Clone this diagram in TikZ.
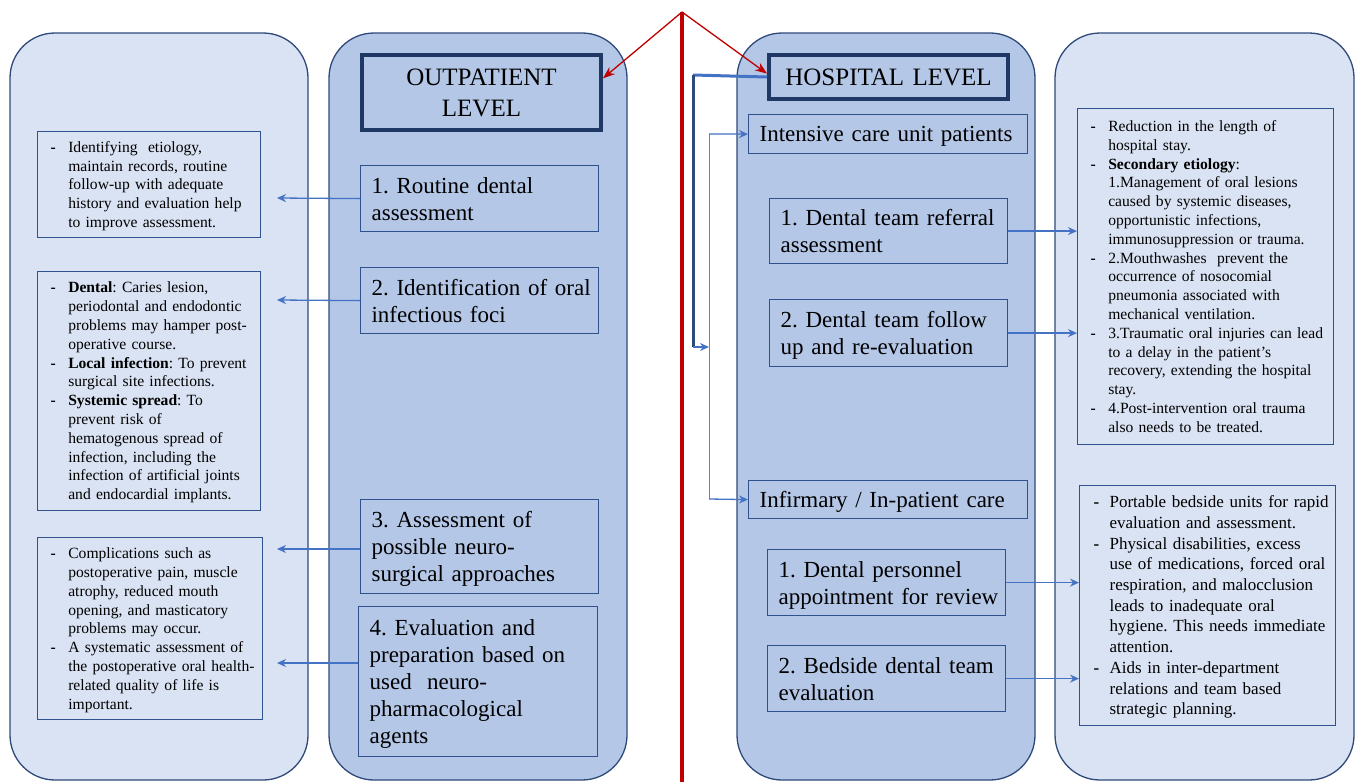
\documentclass[tikz,border=0pt]{standalone}
\usepackage{fontspec}
\setmainfont{Liberation Serif}
\usepackage{array}
\usetikzlibrary{arrows.meta,calc}
\definecolor{lightfill}{HTML}{DAE3F3}
\definecolor{darkfill}{HTML}{B4C7E7}
\definecolor{panelborder}{HTML}{2F4A7A}
\definecolor{boxborder}{HTML}{2F528F}
\definecolor{headborder}{HTML}{203864}
\definecolor{arrowblue}{HTML}{4472C4}
\definecolor{bracketdark}{HTML}{2F4A7A}
\definecolor{redc}{HTML}{C00000}
\newcommand\sidefont{\fontsize{15.6pt}{18.8pt}\selectfont}
\newcommand\sidefontb{\fontsize{17pt}{20.7pt}\selectfont}
\newcommand\midfont{\fontsize{23pt}{27pt}\selectfont}
\newcommand\headfont{\fontsize{25pt}{31pt}\selectfont}
\newcommand\dsh{\textbf{-}}
\newcolumntype{D}{@{}p{17.7pt}@{}}
\newcolumntype{E}{@{}p{16pt}@{}}
\frenchspacing
\begin{document}
\frenchspacing
\begin{tikzpicture}[x=1pt,y=-1pt,
  panelL/.style={draw=panelborder, fill=lightfill, line width=1.3pt, rounded corners=45pt},
  panelD/.style={draw=panelborder, fill=darkfill, line width=1.3pt, rounded corners=45pt},
  midbox/.style={draw=boxborder, fill=darkfill, line width=1.2pt, anchor=north west, align=left, inner xsep=11pt, inner ysep=0pt, font=\midfont, execute at begin node={\vspace*{-5pt}}},
  header/.style={draw=headborder, fill=darkfill, line width=4pt, anchor=north west, align=center, inner xsep=0pt, inner ysep=0pt, font=\headfont},
  sidebox/.style={draw=boxborder, fill=lightfill, line width=1.2pt, anchor=north west, align=left, inner xsep=13pt, inner ysep=0pt, font=\sidefont, execute at begin node={\vspace*{-3pt}}},
  conn/.style={draw=arrowblue, line width=1.3pt, -{Stealth[length=9pt,width=8pt]}},
  redarr/.style={draw=redc, line width=1.3pt, -{Stealth[length=12pt,width=9pt]}},
]
\useasboundingbox (0,0) rectangle (1357,782);
\fill[white] (0,0) rectangle (1357,782);

% panels
\draw[panelL] (10,33) rectangle (308,780);
\draw[panelD] (329,33) rectangle (627,780);
\draw[panelD] (737,33) rectangle (1035,780);
\draw[panelL] (1055,33) rectangle (1354,780);

% outpatient column
\node[header, text width=239pt, minimum height=75pt] (outp) at (360,53) {OUTPATIENT\\LEVEL};
\node[midbox, text width=216pt, minimum height=66pt] (o1) at (360,165)
  {\begin{tabular}{@{}l@{}}1. Routine dental\\assessment\end{tabular}};
\node[midbox, text width=216pt, minimum height=66pt] (o2) at (360,267)
  {\begin{tabular}{@{}l@{}}2. Identification of oral\\infectious foci\end{tabular}};
\node[midbox, text width=216pt, minimum height=94pt] (o3) at (360,499)
  {\begin{tabular}{@{}l@{}}3. Assessment of\\possible neuro-\\surgical approaches\end{tabular}};
\node[midbox, text width=217pt, minimum height=150pt] (o4) at (358,606)
  {\begin{tabular}{@{}l@{}}4. Evaluation and\\preparation based on\\used~ neuro-\\pharmacological\\agents\end{tabular}};

% left notes
\node[sidebox, text width=197pt, minimum height=106pt] (la) at (37,131)
  {\begin{tabular}{Dl@{}}
  \dsh & Identifying~ etiology,\\
   & maintain records, routine\\
   & follow-up with adequate\\
   & history and evaluation help\\
   & to improve assessment.
  \end{tabular}};
\node[sidebox, text width=197pt, minimum height=239pt] (lb) at (37,271)
  {\begin{tabular}{Dl@{}}
  \dsh & \textbf{Dental}: Caries lesion,\\
   & periodontal and endodontic\\
   & problems may hamper post-\\
   & operative course.\\
  \dsh & \textbf{Local infection}: To prevent\\
   & surgical site infections.\\
  \dsh & \textbf{Systemic spread}: To\\
   & prevent risk of\\
   & hematogenous spread of\\
   & infection, including the\\
   & infection of artificial joints\\
   & and endocardial implants.
  \end{tabular}};
\node[sidebox, text width=199pt, minimum height=182pt] (lc) at (37,537)
  {\begin{tabular}{Dl@{}}
  \dsh & Complications such as\\
   & postoperative pain, muscle\\
   & atrophy, reduced mouth\\
   & opening, and masticatory\\
   & problems may occur.\\
  \dsh & A systematic assessment of\\
   & the postoperative oral health-\\
   & related quality of life is\\
   & important.
  \end{tabular}};

% hospital column
\node[header, text width=239pt, minimum height=44pt] (hosp) at (767,53) {HOSPITAL LEVEL};
\node[midbox, text width=257pt, minimum height=39pt] (icu) at (748,114) {Intensive care unit patients};
\node[midbox, text width=216pt, minimum height=65pt] (h1) at (769,198)
  {\begin{tabular}{@{}l@{}}1. Dental team referral\\assessment\end{tabular}};
\node[midbox, text width=216pt, minimum height=67pt] (h2) at (769,299)
  {\begin{tabular}{@{}l@{}}2. Dental team follow\\up and re-evaluation\end{tabular}};
\node[midbox, text width=257pt, minimum height=38pt] (inf) at (748,480) {Infirmary / In-patient care};
\node[midbox, text width=216pt, minimum height=66pt] (h3) at (767,549)
  {\begin{tabular}{@{}l@{}}1. Dental personnel\\appointment for review\end{tabular}};
\node[midbox, text width=216pt, minimum height=66pt] (h4) at (767,645)
  {\begin{tabular}{@{}l@{}}2. Bedside dental team\\evaluation\end{tabular}};

% right notes
\node[sidebox, text width=230pt, minimum height=336pt] (ra) at (1077,108)
  {\begin{tabular}{Dl@{}}
  \dsh & Reduction in the length of\\
   & hospital stay.\\
  \dsh & \textbf{Secondary etiology}:\\
   & 1.Management of oral lesions\\
   & caused by systemic diseases,\\
   & opportunistic infections,\\
   & immunosuppression or trauma.\\
  \dsh & 2.Mouthwashes~ prevent the\\
   & occurrence of nosocomial\\
   & pneumonia associated with\\
   & mechanical ventilation.\\
  \dsh & 3.Traumatic oral injuries can lead\\
   & to a delay in the patient's\\
   & recovery, extending the hospital\\
   & stay.\\
  \dsh & 4.Post-intervention oral trauma\\
   & also needs to be treated.
  \end{tabular}};
\node[sidebox, inner xsep=14pt, font=\sidefontb, text width=228pt, minimum height=240pt] (rb) at (1079,485)
  {\begin{tabular}{El@{}}
  \dsh & Portable bedside units for rapid\\
   & evaluation and assessment.\\
  \dsh & Physical disabilities, excess\\
   & use of medications, forced oral\\
   & respiration, and malocclusion\\
   & leads to inadequate oral\\
   & hygiene. This needs immediate\\
   & attention.\\
  \dsh & Aids in inter-department\\
   & relations and team based\\
   & strategic planning.
  \end{tabular}};

% outpatient connectors
\coordinate (t1) at (277,198);
\coordinate (t2) at (277,300);
\coordinate (t3) at (277,549);
\coordinate (t4) at (277,663);
\draw[conn] (o1.west) -- (t1);
\draw[conn] (o2.west) -- (t2);
\draw[conn] (o3.west |- t3) -- (t3);
\draw[conn] (o4.west |- t4) -- (t4);

% hospital connectors
\draw[conn] (h1.east) -- (h1.east -| ra.west);
\draw[conn] (h2.east) -- (h2.east -| ra.west);
\draw[conn] (h3.east) -- (h3.east -| rb.west);
\draw[conn] (h4.east) -- (h4.east -| rb.west);

% bracket
\coordinate (bkTop) at (693,75);
\coordinate (bkBot) at (693,347);
\coordinate (bkEnd) at (709,347);
\draw[draw=arrowblue, line width=3pt] (hosp.west) -- (bkTop);
\draw[draw=bracketdark, line width=3pt] (bkTop) -- (bkBot);
\draw[draw=arrowblue, line width=1.5pt, -{Stealth[length=9pt,width=8pt]}] (bkBot) -- (bkEnd);
\coordinate (g1) at (709,134);
\coordinate (g2) at (709,499);
\draw[draw=gray, line width=1pt] (g1) -- (g2);
\draw[conn] (g1) -- (icu.west);
\draw[conn] (g2) -- (inf.west);

% red divider and arrows
\coordinate (apex) at (682,12);
\coordinate (redBot) at (682,782);
\draw[draw=redc, line width=4.5pt] (apex) -- (redBot);
\draw[redarr] (apex) -- ($(outp.north east)!0.32!(outp.south east)$);
\draw[redarr] (apex) -- ($(hosp.north west)!0.43!(hosp.south west)$);
\end{tikzpicture}
\end{document}
